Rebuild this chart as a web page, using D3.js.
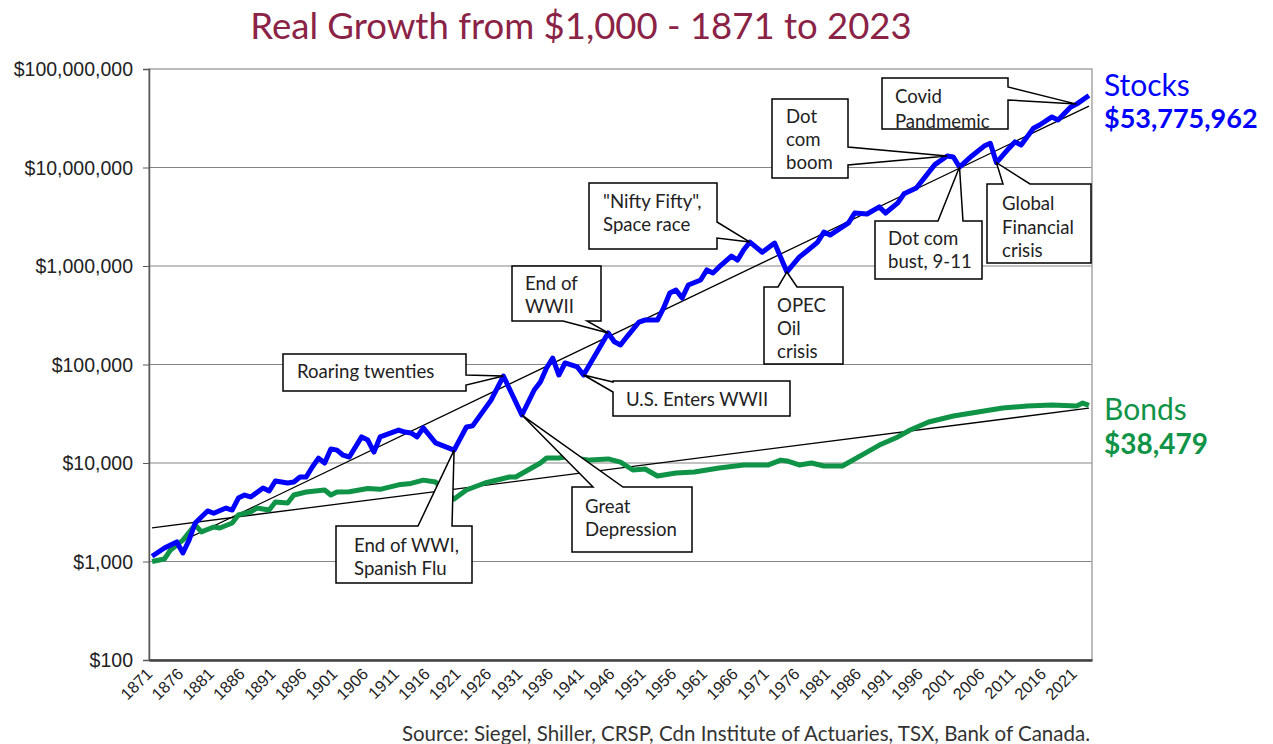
<!DOCTYPE html>
<html lang="en">
<head>
<meta charset="UTF-8">
<title>Real Growth from $1,000</title>
<script src="https://d3js.org/d3.v7.min.js"></script>
<style>
body { margin: 0; background: #fff; }
svg { display: block; }
.ytick text { font-family: "Liberation Sans", Arial, sans-serif; font-size: 19.5px; fill: #222; }
.xtick text { font-family: "Liberation Sans", Arial, sans-serif; font-size: 16.5px; fill: #222; }
.note text { font-family: Lato, "Open Sans", sans-serif; font-size: 18.6px; fill: #222; }
</style>
</head>
<body>
<div id="chart"></div>
<script>
// years where the stock line bends, and the value read there
const stockYears = [1871,1873,1875,1876,1877,1878,1880,1881,1883,1884,1885,1886,1887,1889,1890,1891,1893,1894,1895,1896,1897,1898,1899,1900,1901,1902,1903,1905,1906,1907,1908,1911,1912,1913,1914,1915,1917,1920,1922,1923,1926,1928,1931,1933,1934,1935,1936,1937,1938,1940,1941,1942,1945,1946,1947,1948,1950,1951,1953,1954,1955,1956,1957,1958,1960,1961,1962,1963,1965,1966,1967,1968,1970,1972,1974,1976,1977,1979,1980,1981,1984,1985,1987,1989,1990,1992,1993,1995,1998,2000,2001,2002,2004,2006,2007,2008,2010,2011,2012,2014,2015,2017,2018,2020,2021,2023];
const stockValues = [1130,1370,1580,1220,1650,2460,3260,3090,3490,3330,4410,4730,4520,5570,5200,6560,6260,6410,7210,7210,9120,11200,10000,13900,13500,12000,11500,18400,17100,12900,18400,21600,20600,20200,18400,22700,16000,13500,23200,23800,43500,76400,30700,55100,66300,92200,116000,78200,103600,94400,78200,100000,209000,170000,158000,190000,270000,283000,283000,375000,532000,570000,473000,641000,721000,912000,849000,977000,1260000,1150000,1460000,1750000,1380000,1710000,870000,1230000,1380000,1750000,2210000,2060000,2740000,3450000,3370000,3980000,3450000,4370000,5400000,6190000,10700000,13100000,12800000,10100000,13100000,16500000,17600000,11200000,15600000,18200000,16900000,25000000,27000000,32600000,30400000,41000000,44000000,53775962];

const bondYears = [1871,1873,1874,1876,1878,1879,1881,1882,1884,1885,1887,1888,1890,1891,1893,1894,1896,1899,1900,1901,1903,1906,1908,1911,1913,1915,1917,1918,1920,1922,1925,1929,1930,1934,1935,1937,1938,1942,1945,1947,1949,1951,1953,1956,1959,1963,1967,1971,1973,1974,1976,1978,1980,1983,1987,1989,1992,1994,1997,2001,2005,2009,2013,2017,2021,2022,2023];
const bondValues = [1000,1060,1310,1650,2350,2000,2240,2190,2460,2970,3180,3490,3340,4020,3930,4730,5080,5320,4730,5080,5100,5500,5400,6000,6200,6700,6400,5500,4300,5320,6270,7210,7210,10000,11230,11230,11500,10700,11000,10200,8490,8700,7380,7910,8110,8910,9560,9560,10700,10500,9560,10000,9330,9330,12900,15200,18400,21600,26100,30000,33000,36200,37900,38800,37900,40600,38479];

// exponential trend lines (ends)
const trendYears = [1871, 2023];
const stockTrend = [1150, 42000000];
const bondTrend = [2200, 36000];

const yTicks = [100, 1000, 10000, 100000, 1000000, 10000000, 100000000];
const allYears = d3.range(1871, 2024);
const xTickYears = allYears.filter(y => (y - 1871) % 5 === 0);

const notes = [
  { lines: ["Roaring twenties"], box: [283, 354, 183, 37], tx: 297, base: [378], side: "right", at: [375, 385], year: 1928 },
  { lines: ["End of WWI,", "Spanish Flu"], box: [336, 526, 136, 57], tx: 354, base: [552, 575], side: "top", at: [418, 452], year: 1920 },
  { lines: ["Great", "Depression"], box: [572, 487, 120, 65], tx: 585, base: [513, 536], side: "top", at: [593, 623], year: 1931 },
  { lines: ["End of", "WWII"], box: [512, 266, 89, 55], tx: 525, base: [290, 313], side: "bottom", at: [563, 587], year: 1945 },
  { lines: ["U.S. Enters WWII"], box: [613, 381, 177, 35], tx: 626, base: [406], side: "left", at: [382, 392], year: 1941 },
  { lines: ["\"Nifty Fifty\",", "Space race"], box: [589, 183, 128, 66], tx: 603, base: [208, 231], side: "right", at: [222, 238], year: 1968 },
  { lines: ["OPEC", "Oil", "crisis"], box: [764, 287, 79, 77], tx: 777, base: [312, 335, 358], side: "top", at: [778, 797], year: 1974 },
  { lines: ["Dot", "com", "boom"], box: [772, 99, 76, 79], tx: 786, base: [123, 146, 169], side: "right", at: [147, 165], year: 2000 },
  { lines: ["Dot com", "bust, 9-11"], box: [875, 221, 107, 58], tx: 888, base: [245, 268], side: "top", at: [938, 963], year: 2002 },
  { lines: ["Global", "Financial", "crisis"], box: [987, 184, 104, 79], tx: 1002, base: [210, 234, 257], side: "top", at: [1003, 1030], year: 2008 },
  { lines: ["Covid", "Pandmemic"], box: [882, 78, 126, 51], tx: 895, base: [103, 128], side: "right", at: [87, 100], year: 2021 }
];

const width = 1273, height = 744;
const plotL = 149, plotR = 1092, plotT = 69, plotB = 660;
const blue = "#0000ff", green = "#0f9346";

const svg = d3.select("#chart").append("svg")
  .attr("width", width)
  .attr("height", height);

const x = d3.scalePoint().domain(allYears).range([plotL, plotR]).padding(0.5);
const y = d3.scaleLog().domain([100, 100000000]).range([plotB, plotT]);

// title
svg.append("text")
  .attr("x", 581).attr("y", 39)
  .attr("text-anchor", "middle")
  .style("font-family", "Lato, sans-serif")
  .style("font-size", "36.5px")
  .style("fill", "#8b2346")
  .text("Real Growth from $1,000 - 1871 to 2023");

// grid lines
svg.append("g").selectAll("line")
  .data(yTicks.slice(1, -1))
  .join("line")
  .attr("x1", plotL).attr("x2", plotR)
  .attr("y1", d => y(d)).attr("y2", d => y(d))
  .attr("stroke", "#858585").attr("stroke-width", 1);

// plot frame
svg.append("rect")
  .attr("x", plotL).attr("y", plotT)
  .attr("width", plotR - plotL).attr("height", plotB - plotT)
  .attr("fill", "none").attr("stroke", "#a6a6a6").attr("stroke-width", 1.5);

// y axis
const yAxis = svg.append("g")
  .attr("class", "ytick")
  .attr("transform", `translate(${plotL},0)`)
  .call(d3.axisLeft(y).tickValues(yTicks).tickSize(6).tickPadding(10)
    .tickFormat(d => "$" + d3.format(",")(d)));
yAxis.select(".domain").attr("stroke", "#595959").attr("stroke-width", 1.5);
yAxis.selectAll(".tick line").attr("stroke", "#595959");
yAxis.selectAll("text").attr("dy", "0.35em");

// x axis
const xAxis = svg.append("g")
  .attr("class", "xtick")
  .attr("transform", `translate(0,${plotB})`)
  .call(d3.axisBottom(x).tickValues(xTickYears).tickSize(0).tickPadding(0));
xAxis.select(".domain").attr("stroke", "#404040").attr("stroke-width", 2.5);
xAxis.selectAll("text")
  .attr("text-anchor", "end")
  .attr("dy", null)
  .attr("y", 0)
  .attr("transform", "translate(1,15) rotate(-45)");

// trend lines
const trend = d3.line().x(d => x(d[0])).y(d => y(d[1]));
svg.append("path")
  .datum(d3.zip(trendYears, stockTrend))
  .attr("d", trend).attr("fill", "none").attr("stroke", "#000").attr("stroke-width", 1.3);
svg.append("path")
  .datum(d3.zip(trendYears, bondTrend))
  .attr("d", trend).attr("fill", "none").attr("stroke", "#000").attr("stroke-width", 1.3);

// series
const line = d3.line().x(d => x(d[0])).y(d => y(d[1]));
svg.append("path")
  .datum(d3.zip(bondYears, bondValues))
  .attr("d", line).attr("fill", "none").attr("stroke", green)
  .attr("stroke-width", 5).attr("stroke-linejoin", "round");
svg.append("path")
  .datum(d3.zip(stockYears, stockValues))
  .attr("d", line).attr("fill", "none").attr("stroke", blue)
  .attr("stroke-width", 5).attr("stroke-linejoin", "round");

// callouts
function calloutPath(n, tx, ty) {
  const [bx, by, bw, bh] = n.box;
  const [a, b] = n.at;
  const x2 = bx + bw, y2 = by + bh;
  let p;
  if (n.side === "top")
    p = [[bx, by], [a, by], [tx, ty], [b, by], [x2, by], [x2, y2], [bx, y2]];
  else if (n.side === "right")
    p = [[bx, by], [x2, by], [x2, a], [tx, ty], [x2, b], [x2, y2], [bx, y2]];
  else if (n.side === "bottom")
    p = [[bx, by], [x2, by], [x2, y2], [b, y2], [tx, ty], [a, y2], [bx, y2]];
  else
    p = [[bx, by], [x2, by], [x2, y2], [bx, y2], [bx, b], [tx, ty], [bx, a]];
  return "M" + p.map(d => d.join(",")).join("L") + "Z";
}

const g = svg.append("g").attr("class", "note");
notes.forEach(n => {
  const i = stockYears.indexOf(n.year);
  const tx = x(n.year), ty = y(stockValues[i]);
  g.append("path")
    .attr("d", calloutPath(n, tx, ty))
    .attr("fill", "#fff").attr("stroke", "#000").attr("stroke-width", 1.5)
    .attr("stroke-linejoin", "miter");
  n.lines.forEach((t, k) => {
    g.append("text").attr("x", n.tx).attr("y", n.base[k]).text(t);
  });
});

// series labels
const lab = svg.append("g").style("font-family", "Lato, sans-serif");
lab.append("text").attr("x", 1104).attr("y", 96).style("font-size", "30px").style("fill", blue).text("Stocks");
lab.append("text").attr("x", 1104).attr("y", 128).style("font-size", "27px").style("font-weight", "bold").style("fill", blue)
  .text("$" + d3.format(",")(stockValues[stockValues.length - 1]));
lab.append("text").attr("x", 1104).attr("y", 420).style("font-size", "30px").style("fill", green).text("Bonds");
lab.append("text").attr("x", 1104).attr("y", 454).style("font-size", "28px").style("font-weight", "bold").style("fill", green)
  .text("$" + d3.format(",")(bondValues[bondValues.length - 1]));

// source
svg.append("text")
  .attr("x", 1090).attr("y", 741)
  .attr("text-anchor", "end")
  .style("font-family", "Lato, sans-serif")
  .style("font-size", "20.5px")
  .style("fill", "#333")
  .text("Source: Siegel, Shiller, CRSP, Cdn Institute of Actuaries, TSX, Bank of Canada.");
</script>
</body>
</html>
